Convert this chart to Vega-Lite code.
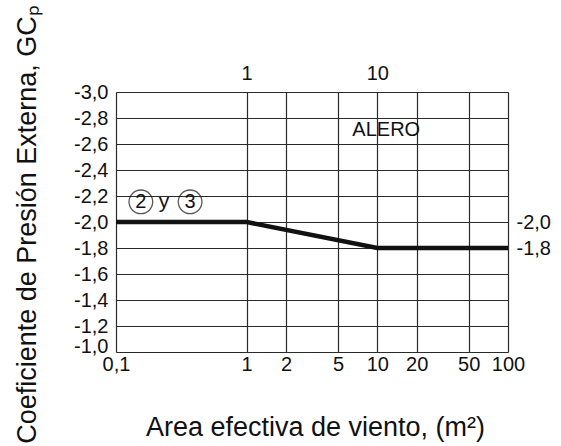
{
  "$schema": "https://vega.github.io/schema/vega-lite/v6.json",
  "width": 392,
  "height": 260,
  "autosize": "none",
  "padding": {"left": 116, "top": 92, "right": 53, "bottom": 94},
  "background": "white",
  "config": {
    "font": "Liberation Sans",
    "view": {"stroke": null},
    "axis": {
      "labelFont": "Liberation Sans",
      "labelFontSize": 20,
      "labelColor": "#111",
      "labelFlush": false,
      "labelOverlap": false,
      "labelBound": false,
      "titleFont": "Liberation Sans",
      "titleFontWeight": "normal",
      "titleColor": "#111",
      "gridColor": "#2a2a2a",
      "gridOpacity": 1,
      "gridWidth": 1.2,
      "ticks": false,
      "domain": false
    }
  },
  "datasets": {
    "curve": [
      {"area": 0.1, "gcp": -2.0},
      {"area": 1, "gcp": -2.0},
      {"area": 10, "gcp": -1.8},
      {"area": 100, "gcp": -1.8}
    ],
    "labels": [
      {"area": 11.7, "gcp": -2.71, "text": "ALERO", "size": 20},
      {"area": 0.155, "gcp": -2.155, "text": "2", "size": 20},
      {"area": 0.233, "gcp": -2.155, "text": "y", "size": 21},
      {"area": 0.369, "gcp": -2.155, "text": "3", "size": 20}
    ],
    "circles": [
      {"area": 0.155, "gcp": -2.155},
      {"area": 0.369, "gcp": -2.155}
    ]
  },
  "layer": [
    {
      "data": {"name": "curve"},
      "mark": {"type": "line", "color": "#111", "strokeWidth": 4.5},
      "encoding": {
        "x": {
          "field": "area",
          "type": "quantitative",
          "scale": {"type": "log", "domain": [0.1, 100], "nice": false},
          "axis": {
            "orient": "bottom",
            "values": [0.1, 1, 2, 5, 10, 20, 50, 100],
            "labelExpr": "datum.value < 0.5 ? '0,1' : format(datum.value, 'd')",
            "labelPadding": 2,
            "grid": true,
            "title": "Area efectiva de viento, (m²)",
            "titleFontSize": 27,
            "titleX": 199,
            "titleY": 83,
            "titleBaseline": "alphabetic",
            "titleAlign": "center"
          }
        },
        "y": {
          "field": "gcp",
          "type": "quantitative",
          "scale": {"domain": [-3, -1], "reverse": true, "nice": false, "zero": false},
          "axis": {
            "orient": "left",
            "values": [-3, -2.8, -2.6, -2.4, -2.2, -2, -1.8, -1.6, -1.4, -1.2, -1],
            "labelExpr": "'-' + replace(format(-datum.value, '.1f'), '.', ',')",
            "labelPadding": 8,
            "labelOffset": {"condition": {"test": "datum.value == -1", "value": -6}, "value": 0},
            "grid": true,
            "title": "Coeficiente de Presión Externa, GCₚ",
            "titleFontSize": 27,
            "titleAngle": -90,
            "titleX": -81,
            "titleY": 132,
            "titleAlign": "center",
            "titleBaseline": "alphabetic"
          }
        }
      }
    },
    {
      "data": {"name": "labels"},
      "mark": {"type": "text", "color": "#111", "align": "center", "baseline": "middle", "font": "Liberation Sans"},
      "encoding": {
        "x": {
          "field": "area",
          "type": "quantitative",
          "scale": {"type": "log", "domain": [0.1, 100], "nice": false},
          "axis": {
            "orient": "top",
            "values": [1, 10],
            "labelExpr": "format(datum.value, 'd')",
            "labelPadding": 9,
            "grid": false,
            "title": null
          }
        },
        "y": {
          "field": "gcp",
          "type": "quantitative",
          "scale": {"domain": [-3, -1], "reverse": true, "nice": false, "zero": false},
          "axis": {
            "orient": "right",
            "values": [-2, -1.8],
            "labelExpr": "'-' + replace(format(-datum.value, '.1f'), '.', ',')",
            "labelPadding": 8,
            "grid": false,
            "title": null
          }
        },
        "text": {"field": "text"},
        "size": {"field": "size", "type": "quantitative", "scale": null}
      }
    },
    {
      "data": {"name": "circles"},
      "mark": {"type": "point", "shape": "circle", "filled": false, "stroke": "#111", "strokeWidth": 1.3, "size": 560},
      "encoding": {
        "x": {"field": "area", "type": "quantitative", "scale": {"type": "log", "domain": [0.1, 100], "nice": false}, "axis": null},
        "y": {"field": "gcp", "type": "quantitative", "scale": {"domain": [-3, -1], "reverse": true, "nice": false, "zero": false}, "axis": null}
      }
    }
  ],
  "resolve": {"axis": {"x": "independent", "y": "independent"}}
}
